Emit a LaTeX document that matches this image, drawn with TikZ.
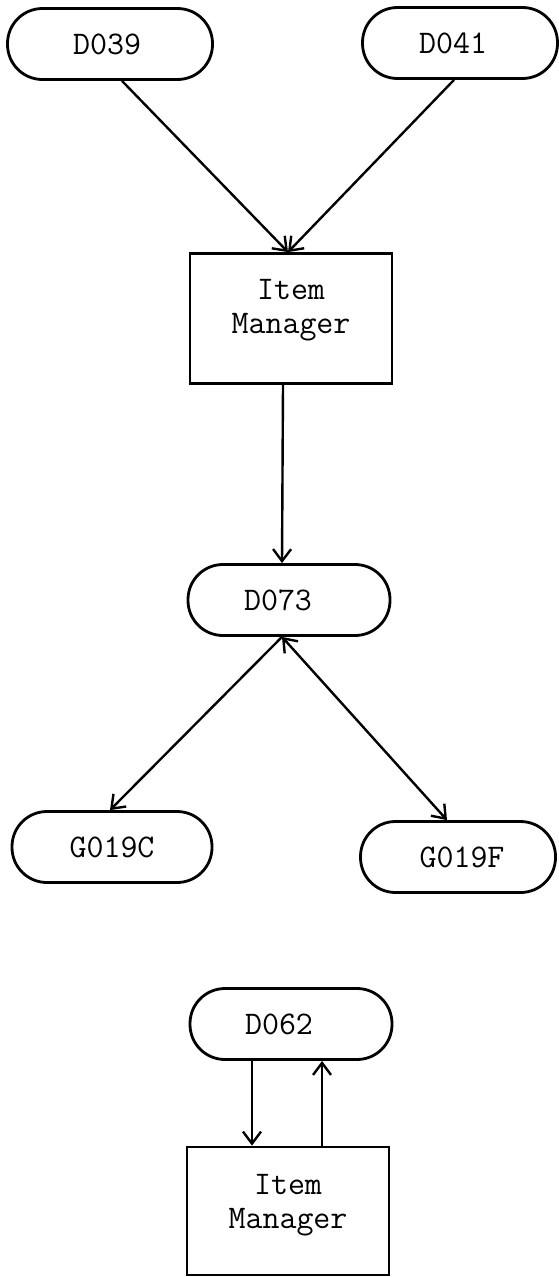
\documentclass[tikz,border=0pt]{standalone}
\usetikzlibrary{arrows.meta,calc}
\begin{document}
\begin{tikzpicture}[x=1pt,y=-1pt,
  lbl/.style={font=\fontsize{33}{34}\selectfont\ttfamily},
  pill/.style={draw,line width=2.8pt,rounded corners=35pt,minimum width=202pt,minimum height=71pt,inner sep=0pt,lbl},
  manager/.style={draw,line width=2.8pt,minimum width=202pt,minimum height=130pt,inner sep=0pt,align=center,lbl},
  barb/.tip={Straight Barb[length=12pt,width=18pt,line width=2.4pt]},
  flow/.style={line width=2.4pt,-barb},
  flowboth/.style={line width=2.4pt,barb-barb}
]
\useasboundingbox (0,0) rectangle (558,1277);
\fill[white] (0,0) rectangle (558,1277);

\node[pill,minimum width=205pt] (d039) at (110,44) {D039\hspace*{6pt}};
\node[pill,minimum width=195pt] (d041) at (460,43) {D041\hspace*{14pt}};
\node[manager] (im1) at (291,318.5) {Item\\Manager\\[-10pt]};
\node[pill] (d073) at (289,600) {D073\hspace*{22pt}};
\node[pill,minimum width=200pt] (g19c) at (112,847) {G019C};
\node[pill,minimum width=195pt] (g19f) at (458,857) {\hspace*{8pt}G019F};
\node[pill] (d062) at (291,1024) {D062\hspace*{24pt}};
\node[manager,minimum height=128pt] (im2) at (288,1211) {Item\\Manager\\[-15pt]};

\draw[flow] ([xshift=12pt]d039.south) -- ([xshift=-3pt]im1.north);
\draw[flow] ([xshift=-6pt]d041.south) -- ([xshift=-3pt]im1.north);
\draw[flow] ([xshift=-8pt]im1.south) -- ([xshift=-7pt]d073.north);
\draw[flow] ([xshift=-7pt]d073.south) -- ([xshift=-2pt]g19c.north);
\draw[flowboth] ([xshift=-7pt]d073.south) -- ([xshift=-11pt]g19f.north);
\draw[flow] ([xshift=-39pt]d062.south) -- ([xshift=-36pt]im2.north);
\draw[flow] ([xshift=34pt]im2.north) -- ([xshift=31pt]d062.south);
\end{tikzpicture}
\end{document}
